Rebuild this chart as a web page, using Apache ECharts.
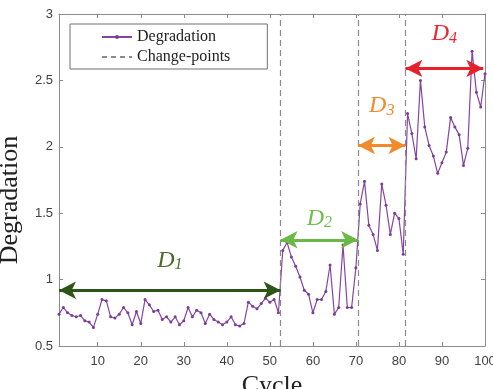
<!DOCTYPE html>
<html>
<head>
<meta charset="utf-8">
<script src="https://cdn.jsdelivr.net/npm/echarts@6/dist/echarts.min.js"></script>
<style>
  html, body { margin: 0; padding: 0; background: #fff; }
  #main { width: 493px; height: 389px; }
</style>
</head>
<body>
<div id="main"></div>
<script>
// degradation per cycle (cycles 1..100)
const degradation = [
  0.74, 0.79, 0.75, 0.73, 0.72, 0.73, 0.69, 0.68, 0.64, 0.74,
  0.85, 0.84, 0.72, 0.71, 0.74, 0.79, 0.75, 0.66, 0.76, 0.67,
  0.85, 0.81, 0.76, 0.77, 0.70, 0.72, 0.68, 0.72, 0.66, 0.69,
  0.79, 0.72, 0.77, 0.75, 0.67, 0.74, 0.70, 0.68, 0.66, 0.68,
  0.72, 0.66, 0.65, 0.67, 0.83, 0.80, 0.78, 0.82, 0.86, 0.83,
  0.85, 0.75, 1.22, 1.28, 1.17, 1.10, 1.02, 0.92, 0.89, 0.75,
  0.85, 0.85, 0.91, 1.11, 0.74, 0.79, 1.26, 0.79, 0.79, 1.09,
  1.57, 1.74, 1.41, 1.34, 1.22, 1.72, 1.56, 1.34, 1.50, 1.46,
  1.19, 2.25, 2.10, 1.91, 2.50, 2.15, 2.01, 1.93, 1.80, 1.88,
  1.96, 2.22, 2.15, 2.09, 1.86, 1.99, 2.72, 2.41, 2.30, 2.55
]
const changePoints = [52.5, 70.5, 81.5]
// stage arrows: label index, start, end, level
const stageNames = ['1', '2', '3', '4']
const stageStart = [1, 52.5, 70.5, 81.5]
const stageEnd = [52.5, 70.5, 81.5, 99.6]
const stageLevel = [0.92, 1.30, 2.01, 2.59]
const xTicks = [10, 20, 30, 40, 50, 60, 70, 80, 90, 100]
const yTicks = [0.5, 1, 1.5, 2, 2.5, 3]

const stageColors = ['#2d5518', '#6cb847', '#f08a2c', '#e8202c']
const stageTextColors = ['#4a6a2c', '#72bd4c', '#f08a2c', '#e8272f']
const stageLabelGap = [17, 9, 27, 22]

const chartInstance = echarts.init(document.getElementById('main'))

const axisGrey = '#8c8c8c'
const tickFont = { color: '#404040', fontFamily: 'Liberation Sans', fontSize: 13 }

function boxAxis(pos, showLabel, extra) {
  return Object.assign({
    type: 'value',
    position: pos,
    axisLine: { show: true, onZero: false, lineStyle: { color: axisGrey, width: 1 } },
    axisTick: { show: true, inside: true, length: 4, lineStyle: { color: axisGrey } },
    axisLabel: Object.assign({ show: showLabel }, tickFont),
    splitLine: { show: false }
  }, extra)
}

const arrowLines = stageNames.map((n, i) => [
  {
    coord: [stageStart[i], stageLevel[i]],
    lineStyle: { color: stageColors[i], width: 3, type: 'solid' },
    label: {
      show: true,
      position: 'middle',
      distance: stageLabelGap[i],
      formatter: '{a|D}{b|' + n + '}',
      rich: {
        a: { fontFamily: 'Liberation Serif', fontStyle: 'italic', fontSize: 24, color: stageTextColors[i] },
        b: { fontFamily: 'Liberation Serif', fontStyle: 'italic', fontSize: 16, color: stageTextColors[i], padding: [9, 0, 0, 0] }
      }
    }
  },
  { coord: [stageEnd[i], stageLevel[i]] }
])

const option = {
  animation: false,
  grid: { left: 59, right: 8, top: 14, bottom: 43, containLabel: false, outerBoundsMode: 'none' },
  legend: {
    orient: 'vertical',
    left: 70,
    top: 24,
    borderColor: '#707070',
    borderWidth: 1,
    borderRadius: 0,
    padding: [5, 37, 4, 31],
    itemGap: 4,
    itemWidth: 30,
    itemHeight: 5,
    textStyle: { fontFamily: 'Liberation Serif', fontSize: 16, color: '#222' },
    data: ['Degradation', { name: 'Change-points', itemStyle: { opacity: 0 } }]
  },
  xAxis: [
    boxAxis('bottom', true, {
      min: 1, max: 100,
      name: 'Cycle',
      nameLocation: 'middle',
      nameGap: 24,
      nameTextStyle: { fontFamily: 'Liberation Serif', fontSize: 26, color: '#222' },
      axisLabel: Object.assign({ show: true, margin: 9, customValues: xTicks }, tickFont),
      axisTick: { show: true, inside: true, length: 4, customValues: xTicks, lineStyle: { color: axisGrey } }
    }),
    boxAxis('top', false, {
      min: 1, max: 100,
      axisTick: { show: true, inside: true, length: 4, customValues: xTicks, lineStyle: { color: axisGrey } }
    })
  ],
  yAxis: [
    boxAxis('left', true, {
      min: 0.5, max: 3, interval: 0.5,
      name: 'Degradation',
      nameLocation: 'middle',
      nameGap: 36,
      nameTextStyle: { fontFamily: 'Liberation Serif', fontSize: 26, color: '#222', padding: [0, 40, 0, 0] },
      axisLabel: Object.assign({ show: true, margin: 6, formatter: v => String(v) }, tickFont)
    }),
    boxAxis('right', false, { min: 0.5, max: 3, interval: 0.5 })
  ],
  series: [
    {
      name: 'Degradation',
      type: 'line',
      data: degradation.map((v, i) => [i + 1, v]),
      symbol: 'circle',
      symbolSize: 3,
      showSymbol: true,
      color: '#7a3c96',
      lineStyle: { color: '#8445a2', width: 1.2 },
      itemStyle: { color: '#7a3c96' }
    },
    {
      name: 'Change-points',
      type: 'line',
      data: [],
      symbol: 'none',
      color: '#8a8a8a',
      lineStyle: { color: '#8a8a8a', width: 1.2, type: [5, 4] },
      markLine: {
        silent: true,
        symbol: ['none', 'none'],
        label: { show: false },
        lineStyle: { color: '#8a8a8a', width: 1.2, type: [6, 4] },
        data: changePoints.map(c => ({ xAxis: c }))
      }
    },
    {
      name: 'stages',
      type: 'line',
      data: [],
      markLine: {
        silent: true,
        symbol: ['arrow', 'arrow'],
        symbolSize: [13, 17],
        data: arrowLines
      }
    }
  ]
}

chartInstance.setOption(option)
</script>
</body>
</html>
